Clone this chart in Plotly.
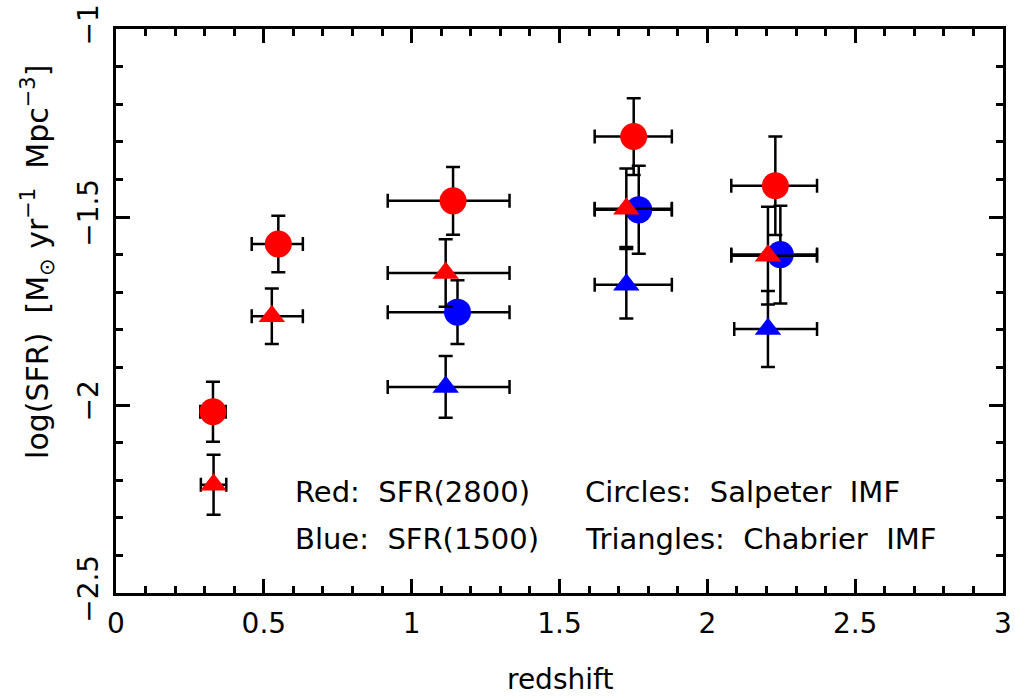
import plotly.graph_objects as go

# ---- data ----
# Red (SFR 2800), Salpeter IMF -> circles
rc_z = [0.328, 0.549, 1.140, 1.751, 2.230]
rc_sfr = [-2.018, -1.572, -1.457, -1.286, -1.417]
rc_yerr = [0.080, 0.075, 0.090, 0.102, 0.131]
rc_xerr_minus = [0.043, 0.090, 0.221, 0.132, 0.149]
rc_xerr_plus = [0.043, 0.083, 0.191, 0.129, 0.141]

# Red (SFR 2800), Chabrier IMF -> triangles
rt_z = [0.330, 0.527, 1.115, 1.726, 2.205]
rt_sfr = [-2.212, -1.764, -1.649, -1.478, -1.603]
rt_yerr = [0.080, 0.074, 0.090, 0.107, 0.130]
rt_xerr_minus = [0.043, 0.068, 0.196, 0.107, 0.124]
rt_xerr_plus = [0.043, 0.105, 0.216, 0.154, 0.166]

# Blue (SFR 1500), Salpeter IMF -> circles
bc_z = [1.155, 1.768, 2.247]
bc_sfr = [-1.753, -1.481, -1.600]
bc_yerr = [0.085, 0.117, 0.130]
bc_xerr_minus = [0.236, 0.149, 0.166]
bc_xerr_plus = [0.176, 0.112, 0.124]

# Blue (SFR 1500), Chabrier IMF -> triangles
bt_z = [1.115, 1.726, 2.205]
bt_sfr = [-1.952, -1.680, -1.798]
bt_yerr_plus = [0.082, 0.100, 0.101]
bt_yerr_minus = [0.082, 0.090, 0.101]
bt_xerr_minus = [0.196, 0.107, 0.114]
bt_xerr_plus = [0.216, 0.154, 0.166]

x_ticks = [0, 0.5, 1, 1.5, 2, 2.5, 3]
x_ticklabels = ["0", "0.5", "1", "1.5", "2", "2.5", "3"]
y_ticks = [-2.5, -2, -1.5, -1]
y_ticklabels = ["\u22122.5", "\u22122", "\u22121.5", "\u22121"]

RED = "#ff0000"
BLUE = "#0000ff"
FONT = "DejaVu Sans"
EB = dict(color="black", thickness=2.5, width=7)


def trace(z, y, ym, yp, xm, xp, color, symbol, size):
    return go.Scatter(
        x=z, y=y, mode="markers",
        marker=dict(color=color, symbol=symbol, size=size, line=dict(width=0)),
        error_x=dict(type="data", symmetric=False, array=xp, arrayminus=xm, **EB),
        error_y=dict(type="data", symmetric=False, array=yp, arrayminus=ym, **EB),
        showlegend=False, hoverinfo="x+y",
    )


fig = go.Figure()
fig.add_trace(trace(bc_z, bc_sfr, bc_yerr, bc_yerr, bc_xerr_minus, bc_xerr_plus, BLUE, "circle", 27))
fig.add_trace(trace(bt_z, bt_sfr, bt_yerr_minus, bt_yerr_plus, bt_xerr_minus, bt_xerr_plus, BLUE, "triangle-up", 23))
fig.add_trace(trace(rc_z, rc_sfr, rc_yerr, rc_yerr, rc_xerr_minus, rc_xerr_plus, RED, "circle", 27))
fig.add_trace(trace(rt_z, rt_sfr, rt_yerr, rt_yerr, rt_xerr_minus, rt_xerr_plus, RED, "triangle-up", 23))

axis_common = dict(
    showline=True, linecolor="black", linewidth=2.5, mirror="ticks",
    ticks="inside", ticklen=14, tickwidth=2.5, tickcolor="black",
    showgrid=False, zeroline=False, automargin=False, ticklabeloverflow="allow",
    tickfont=dict(family=FONT, size=28, color="black"),
    minor=dict(ticks="inside", ticklen=7, tickwidth=2.5, tickcolor="black", dtick=0.1, showgrid=False),
)

fig.update_xaxes(range=[0, 3], tickmode="array", tickvals=x_ticks, ticktext=x_ticklabels,
                 ticklabelstandoff=4, **axis_common)
fig.update_yaxes(range=[-2.5, -1], tickmode="array", tickvals=y_ticks, ticktext=y_ticklabels,
                 tickangle=-90, ticklabelstandoff=4, **axis_common)

ann_font = dict(family=FONT, size=29, color="black")
notes = [
    (0.598, -2.231, "Red:  SFR(2800)"),
    (0.598, -2.356, "Blue:  SFR(1500)"),
    (1.580, -2.231, "Circles:  Salpeter  IMF"),
    (1.580, -2.356, "Triangles:  Chabrier  IMF"),
]
for nx, ny, t in notes:
    fig.add_annotation(x=nx, y=ny, xref="x", yref="y", text=t, showarrow=False,
                       xanchor="left", yanchor="middle", font=ann_font)

fig.add_annotation(
    x=0, y=0.587, xref="paper", yref="paper", xshift=-78,
    text="log(SFR)  [M<sub>\u2299</sub> yr<sup>\u22121</sup>  Mpc<sup>\u22123</sup>]",
    textangle=-90, showarrow=False, xanchor="center", yanchor="middle",
    font=dict(family=FONT, size=30, color="black"),
)
fig.add_annotation(
    x=0.5, y=0, xref="paper", yref="paper", yshift=-86,
    text="redshift", showarrow=False, xanchor="center", yanchor="middle",
    font=dict(family=FONT, size=28, color="black"),
)

fig.update_layout(
    width=1015, height=698,
    margin=dict(l=116, r=12, t=29, b=105),
    paper_bgcolor="white", plot_bgcolor="white",
    font=dict(family=FONT, color="black"),
)

fig.write_html("out.html")
